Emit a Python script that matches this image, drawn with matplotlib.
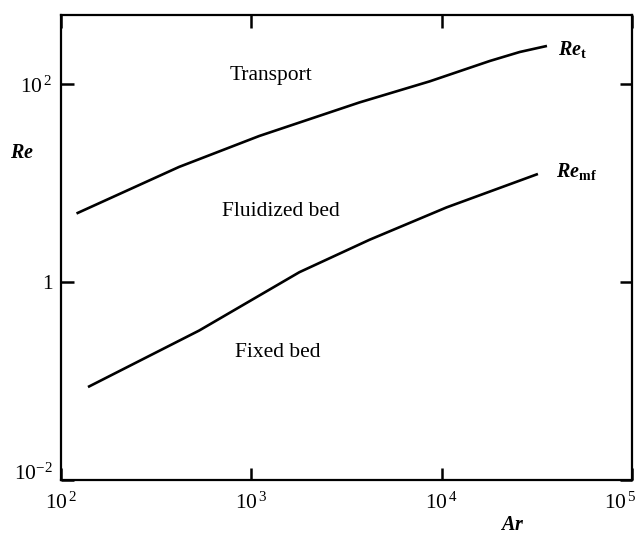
import matplotlib
matplotlib.use("Agg")
import matplotlib.pyplot as plt
import matplotlib.transforms as mtransforms

plt.rcParams['font.family'] = ['Liberation Serif', 'DejaVu Serif']
plt.rcParams['mathtext.fontset'] = 'custom'
plt.rcParams['mathtext.rm'] = 'Liberation Serif'
plt.rcParams['mathtext.it'] = 'Liberation Serif:italic:bold'
plt.rcParams['mathtext.bf'] = 'Liberation Serif:bold'

# Data
ar_t = [121, 418, 1102, 3700, 8650, 17900, 25700, 35700]
re_t = [4.94, 14.6, 30, 65.5, 107, 172, 212, 244]

ar_mf = [139, 533, 1790, 4180, 10600, 32000]
re_mf = [0.087, 0.324, 1.26, 2.68, 5.69, 12.4]

x_ticks = [1e2, 1e3, 1e4, 1e5]
x_tick_labels = [r'$\mathrm{10}^{\,2}$', r'$\mathrm{10}^{\,3}$', r'$\mathrm{10}^{\,4}$', r'$\mathrm{10}^{\,5}$']
y_ticks = [1e-2, 1, 1e2]
y_tick_labels = [r'$\mathrm{10}^{-2}$', '1', r'$\mathrm{10}^{\,2}$']

region_labels = ['Transport', 'Fluidized bed', 'Fixed bed']
region_x = [1274, 1438, 1370]
region_y = [124, 5.18, 0.193]

fig = plt.figure(figsize=(6.36, 5.36), dpi=100)
ax = fig.add_axes([0.0955, 0.1045, 0.8985, 0.8675])
ax.set_xscale('log')
ax.set_yscale('log')
ax.set_xlim(1e2, 1e5)
ax.set_ylim(1e-2, 10 ** 2.70)

ax.plot(ar_t, re_t, color='black', lw=1.9, solid_capstyle='butt')
ax.plot(ar_mf, re_mf, color='black', lw=1.9, solid_capstyle='butt')

for s in ax.spines.values():
    s.set_linewidth(1.6)

ax.set_xticks(x_ticks)
ax.set_xticklabels(x_tick_labels)
ax.set_yticks(y_ticks)
ax.set_yticklabels(y_tick_labels)
ax.minorticks_off()
ax.tick_params(which='major', direction='in', length=9, width=1.8,
               top=True, right=True, labelsize=15.5)
ax.tick_params(axis='x', pad=9)
ax.tick_params(axis='y', pad=6)

# shift the 10^-2 y label upward as in the reference
ylbls = ax.get_yticklabels()
ylbls[0].set_transform(ylbls[0].get_transform() +
                       mtransforms.ScaledTranslation(0, 6 / 72, fig.dpi_scale_trans))
# keep the 10^5 label inside the picture
xlbls = ax.get_xticklabels()
xlbls[-1].set_transform(xlbls[-1].get_transform() +
                        mtransforms.ScaledTranslation(-12 / 100, 0, fig.dpi_scale_trans))

for t, x, y in zip(region_labels, region_x, region_y):
    ax.text(x, y, t, ha='center', va='center', fontsize=15.5)

ax.text(41000, 227, r'$\mathit{Re}_{\mathbf{t}}$', ha='left', va='center', fontsize=14.5)
ax.text(40000, 13.2, r'$\mathit{Re}_{\mathbf{mf}}$', ha='left', va='center', fontsize=14.5)

fig.text(22 / 636, 1 - 153 / 536, r'$\mathit{Re}$', ha='center', va='center', fontsize=14.5)
fig.text(512 / 636, 1 - 526 / 536, r'$\mathit{Ar}$', ha='center', va='center', fontsize=14.5)

fig.savefig('out.png', dpi=100)
